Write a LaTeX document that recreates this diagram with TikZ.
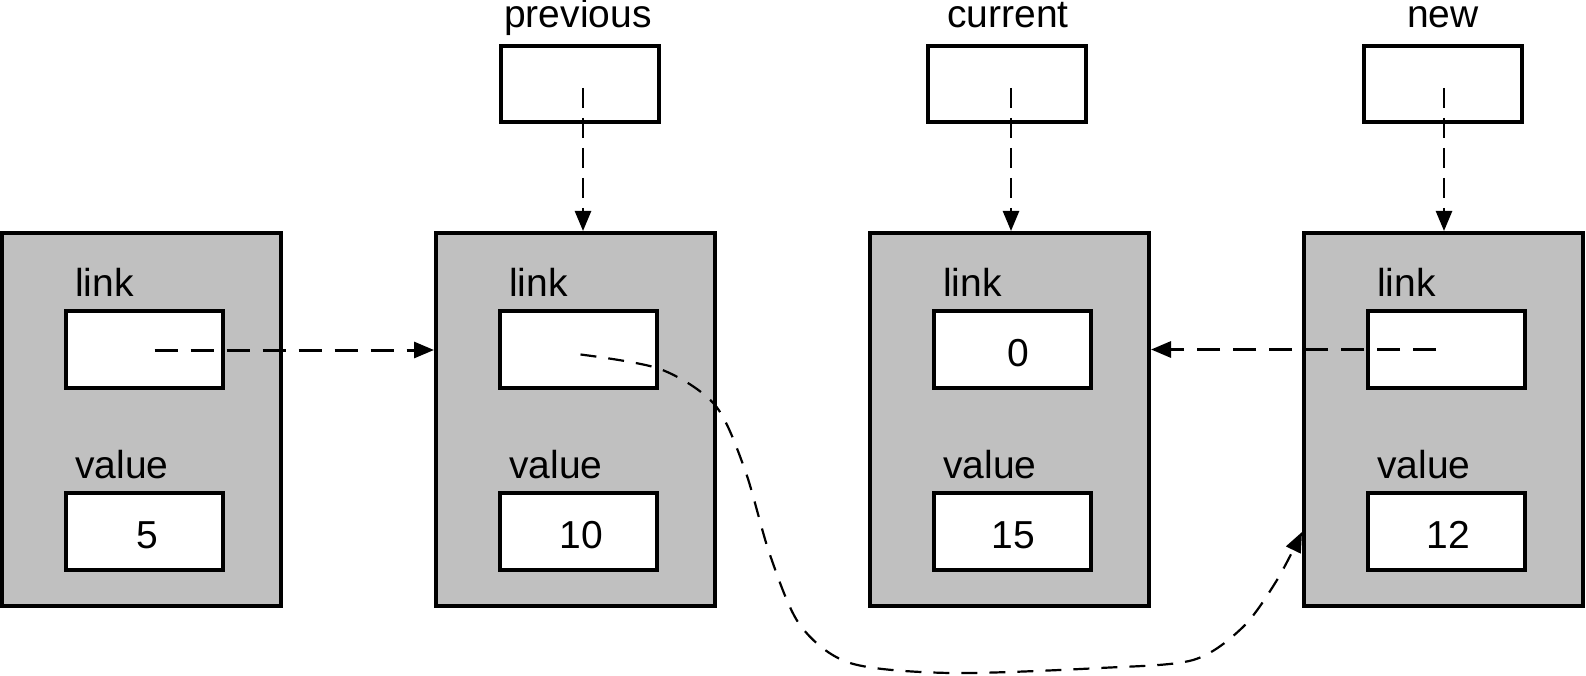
\documentclass[tikz,border=0pt]{standalone}
\usepackage{fontspec}
\setmainfont{Liberation Sans}
\usetikzlibrary{arrows.meta,calc}
\definecolor{boxgray}{RGB}{192,192,192}
\begin{document}
\begin{tikzpicture}[x=1pt,y=-1pt,
 bigbox/.style={draw,line width=4pt,fill=boxgray,minimum width=279pt,minimum height=373pt,inner sep=0pt},
 cell/.style={draw,line width=4pt,fill=white,minimum width=157pt,minimum height=77pt,inner sep=0pt},
 topcell/.style={draw,line width=4pt,fill=white,minimum width=158pt,minimum height=76pt,inner sep=0pt},
 lbl/.style={font=\fontsize{39}{45}\selectfont,inner sep=0pt},
 ptr/.style={line width=3pt,dash pattern=on 23pt off 13pt,-{Triangle[length=20pt,width=16pt]}},
 vptr/.style={line width=2.5pt,dash pattern=on 20pt off 10pt,-{Triangle[length=20pt,width=16pt]}},
 cptr/.style={line width=2.2pt,dash pattern=on 16pt off 12pt,-{Triangle[length=20pt,width=16pt]}},
]
\useasboundingbox (0,0) rectangle (1586,676);

% big boxes
\node[bigbox] (b1) at (141.5,419.5) {};
\node[bigbox] (b2) at (575.5,419.5) {};
\node[bigbox] (b3) at (1009.5,419.5) {};
\node[bigbox] (b4) at (1443.5,419.5) {};

% cells
\node[cell] (l1) at (144.5,349.5) {};
\node[cell] (v1) at (144.5,531.5) {};
\node[cell] (l2) at (578.5,349.5) {};
\node[cell] (v2) at (578.5,531.5) {};
\node[cell] (l3) at (1012.5,349.5) {};
\node[cell] (v3) at (1012.5,531.5) {};
\node[cell] (l4) at (1446.5,349.5) {};
\node[cell] (v4) at (1446.5,531.5) {};

% labels
\node[lbl,anchor=base west] (k1) at (75,296) {link};
\node[lbl,anchor=base west] (k2) at (509,296) {link};
\node[lbl,anchor=base west] (k3) at (943,296) {link};
\node[lbl,anchor=base west] (k4) at (1377,296) {link};
\node[lbl,anchor=base west] (w1) at (75,478) {value};
\node[lbl,anchor=base west] (w2) at (509,478) {value};
\node[lbl,anchor=base west] (w3) at (943,478) {value};
\node[lbl,anchor=base west] (w4) at (1377,478) {value};

\node[lbl,anchor=base] (n1) at (147.5,548) {5};
\node[lbl,anchor=base] (n2) at (581.5,548) {10};
\node[lbl,anchor=base] (n3) at (1013.5,548) {15};
\node[lbl,anchor=base] (n4) at (1448.5,548) {12};
\node[lbl,anchor=base] (z3) at (1018,366) {0};

% top pointer boxes
\node[topcell] (t2) at (580,84) {};
\node[topcell] (t3) at (1007,84) {};
\node[topcell] (t4) at (1442.5,84) {};
\node[lbl,anchor=base] (p2) at (578,28) {previous};
\node[lbl,anchor=base] (p3) at (1008,28) {current};
\node[lbl,anchor=base] (p4) at (1443,28) {new};

% vertical pointers
\coordinate (s2) at ($(t2.center)+(3,4)$);
\coordinate (s3) at ($(t3.center)+(4,4)$);
\coordinate (s4) at ($(t4.center)+(1.5,4)$);
\draw[vptr] (s2) -- (s2 |- b2.north);
\draw[vptr] (s3) -- (s3 |- b3.north);
\draw[vptr] (s4) -- (s4 |- b4.north);

% horizontal pointers
\coordinate (h1) at ($(l1.center)+(10,0.5)$);
\draw[ptr] (h1) -- (h1 -| b2.west);
\coordinate (h4) at ($(l4.center)+(-10.5,0)$);
\draw[ptr] (h4) -- (h4 -| b3.east);

% curved pointer
\coordinate (c0) at ($(l2.center)+(2,5)$);
\coordinate (c1) at ($(b4.west)+(0,112.5)$);
\draw[cptr] plot[smooth,tension=0.5] coordinates {(c0) (660,369) (715,405) (745,470) (770,555) (800,625) (850,663) (950,673) (1100,668) (1193,660) (1243,627) (1277,580) (c1)};
\end{tikzpicture}
\end{document}
